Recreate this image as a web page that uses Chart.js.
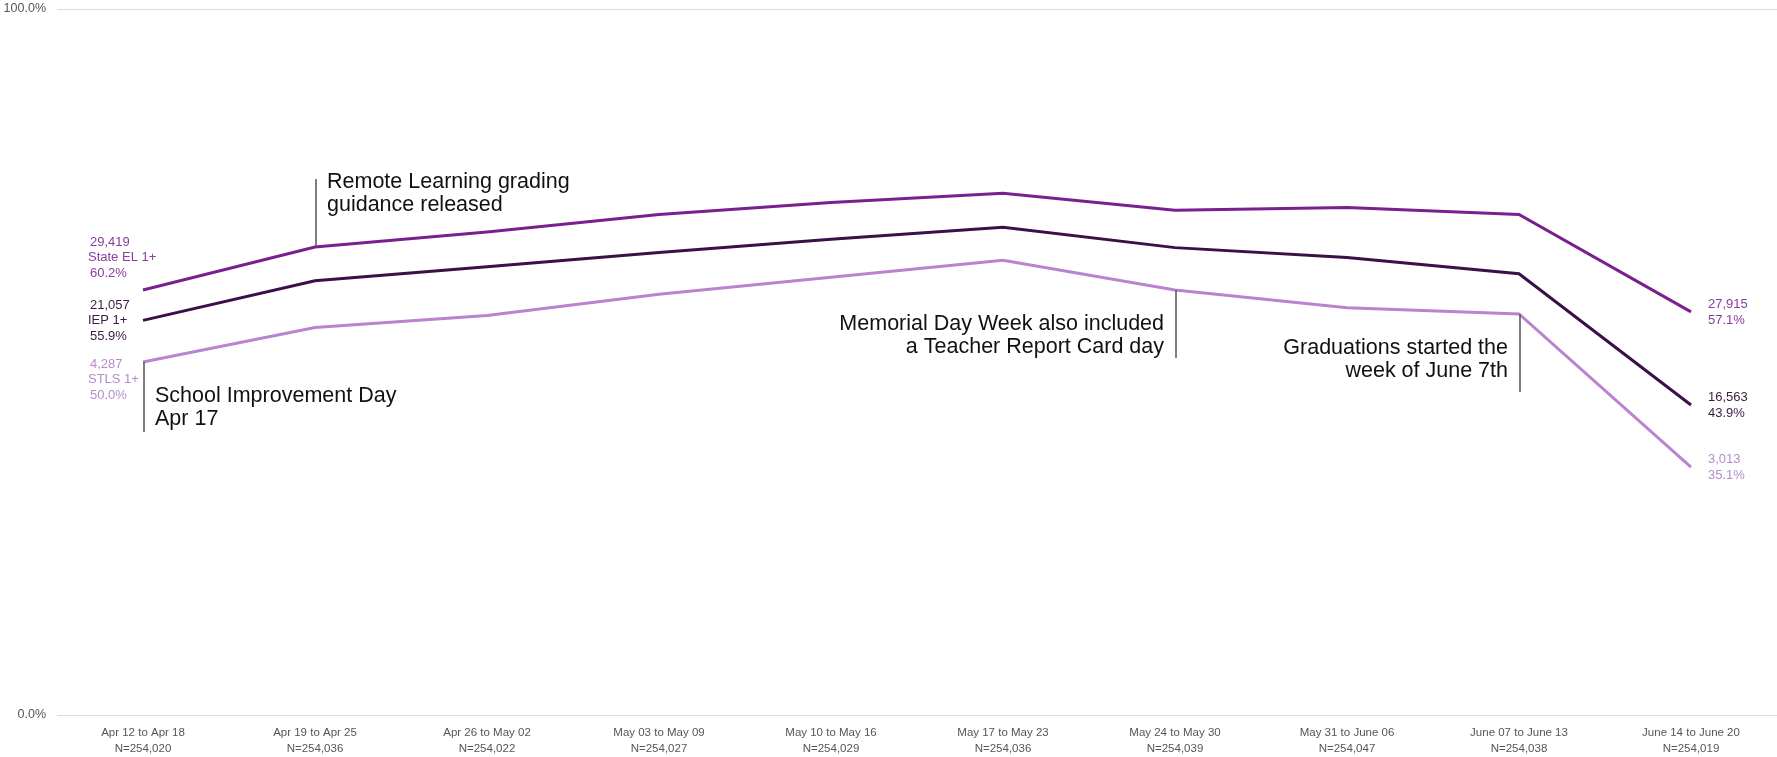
<!DOCTYPE html>
<html>
<head>
<meta charset="utf-8">
<script src="https://cdn.jsdelivr.net/npm/chart.js@4/dist/chart.umd.min.js"></script>
<style>
  html, body { margin: 0; padding: 0; background: #fff; }
  #wrap { width: 1777px; height: 757px; }
</style>
</head>
<body>
<div id="wrap"><canvas id="c" width="1777" height="757"></canvas></div>
<script>
// ---- Data ----
const categories = ['Apr 12 to Apr 18','Apr 19 to Apr 25','Apr 26 to May 02','May 03 to May 09','May 10 to May 16','May 17 to May 23','May 24 to May 30','May 31 to June 06','June 07 to June 13','June 14 to June 20'];
const nLabels = ['N=254,020','N=254,036','N=254,022','N=254,027','N=254,029','N=254,036','N=254,039','N=254,047','N=254,038','N=254,019'];
const seriesNames = ['State EL 1+','IEP 1+','STLS 1+'];
const stateEL = [60.2, 66.3, 68.4, 70.9, 72.6, 73.9, 71.5, 71.9, 70.9, 57.1];
const iep     = [55.9, 61.5, 63.5, 65.5, 67.4, 69.1, 66.2, 64.8, 62.5, 43.9];
const stls    = [50.0, 54.9, 56.6, 59.6, 62.0, 64.4, 60.2, 57.7, 56.8, 35.1];
const startCounts = ['29,419','21,057','4,287'];
const endCounts   = ['27,915','16,563','3,013'];
const yTicks = [0, 100];
const notes = [
  { index: 0, series: 2, lines: ['School Improvement Day','Apr 17'], dir: 'down', align: 'left' },
  { index: 1, series: 0, lines: ['Remote Learning grading','guidance released'], dir: 'up', align: 'left' },
  { index: 6, series: 2, lines: ['Memorial Day Week also included','a Teacher Report Card day'], dir: 'down', align: 'right' },
  { index: 8, series: 2, lines: ['Graduations started the','week of June 7th'], dir: 'down', align: 'right' }
];

// ---- Styles ----
const FONT = "'Liberation Sans', Arial, sans-serif";
const lineColors  = ['#7a1f8e', '#3b0f47', '#bb82cf'];
const labelColors = ['#8a3d9e', '#3b1c45', '#b58dc9'];
const leftOffsets = [-48, -15, 2];
const noteLen = [70, 68, 68, 78];

const allSeries = [stateEL, iep, stls];

const labelPlugin = {
  id: 'labels',
  afterDatasetsDraw(chart) {
    const ctx = chart.ctx;
    const xs = chart.scales.x, ys = chart.scales.y;
    ctx.save();
    ctx.font = '13px ' + FONT;
    ctx.textBaseline = 'middle';
    ctx.textAlign = 'left';
    allSeries.forEach((data, si) => {
      const x0 = xs.getPixelForValue(0);
      const y0 = ys.getPixelForValue(data[0]);
      ctx.fillStyle = labelColors[si];
      const lines = [startCounts[si], seriesNames[si], data[0].toFixed(1) + '%'];
      lines.forEach((t, k) => ctx.fillText(t, x0 - 55 + (k === 1 ? 0 : 2), y0 + leftOffsets[si] + k * 15.5));
      const last = data.length - 1;
      const x1 = xs.getPixelForValue(last);
      const y1 = ys.getPixelForValue(data[last]);
      ctx.fillText(endCounts[si], x1 + 17, y1 - 7.5);
      ctx.fillText(data[last].toFixed(1) + '%', x1 + 17, y1 + 8.5);
    });
    notes.forEach((n, ni) => {
      const data = allSeries[n.series];
      const px = xs.getPixelForValue(n.index);
      const py = ys.getPixelForValue(data[n.index]);
      const len = noteLen[ni];
      ctx.strokeStyle = '#555';
      ctx.lineWidth = 1.5;
      ctx.beginPath();
      ctx.moveTo(px + 1, py);
      ctx.lineTo(px + 1, n.dir === 'down' ? py + len : py - len);
      ctx.stroke();
      ctx.fillStyle = '#111';
      ctx.font = '21.5px ' + FONT;
      ctx.textAlign = n.align;
      const tx = n.align === 'left' ? px + 12 : px - 11;
      const firstY = n.dir === 'down' ? py + 34 : py - 65;
      n.lines.forEach((t, k) => ctx.fillText(t, tx, firstY + k * 23));
    });
    ctx.restore();
  }
};

new Chart(document.getElementById('c'), {
  type: 'line',
  data: {
    labels: categories.map((c, i) => [c, nLabels[i]]),
    datasets: allSeries.map((d, i) => ({
      label: seriesNames[i],
      data: d,
      borderColor: lineColors[i],
      backgroundColor: lineColors[i],
      borderWidth: 3,
      pointRadius: 0,
      tension: 0,
      fill: false
    }))
  },
  options: {
    responsive: false,
    animation: false,
    layout: { padding: { top: 9, right: 0, left: 0, bottom: 0 } },
    plugins: { legend: { display: false }, tooltip: { enabled: false } },
    scales: {
      x: {
        offset: true,
        grid: { display: false },
        border: { display: false },
        ticks: {
          autoSkip: false, maxRotation: 0, padding: 2,
          color: '#555', font: { family: FONT, size: 11.5, lineHeight: 1.4 }
        },
        afterFit(s) { s.height = 42; }
      },
      y: {
        min: 0, max: 100,
        afterBuildTicks(s) { s.ticks = yTicks.map(v => ({ value: v })); },
        grid: { color: '#dcdcdc', lineWidth: 1, drawTicks: false },
        border: { display: false },
        ticks: {
          padding: 11, color: '#555',
          font: { family: FONT, size: 12.5 },
          callback: v => v.toFixed(1) + '%'
        },
        afterFit(s) { s.width = 57; s.paddingTop = 0; s.paddingBottom = 0; }
      }
    }
  },
  plugins: [labelPlugin]
});
</script>
</body>
</html>
